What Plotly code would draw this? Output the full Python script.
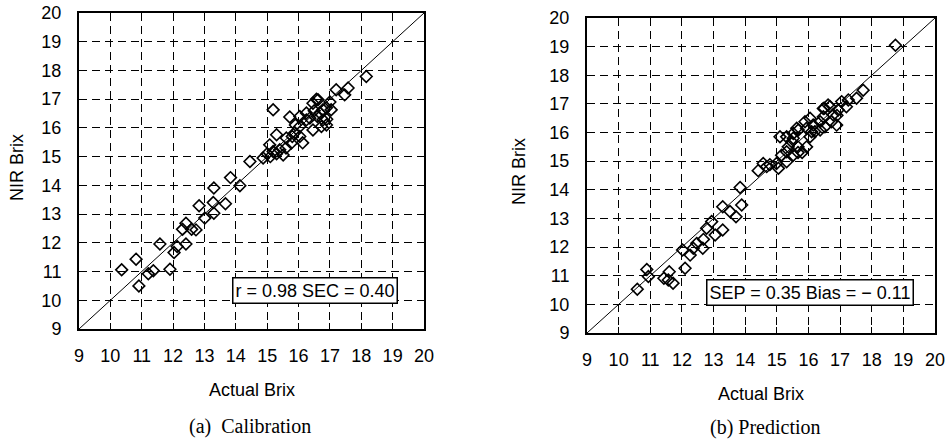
import plotly.graph_objects as go

# ---------------- data ----------------
cal_actual = [10.36, 10.82, 10.91, 11.21, 11.37, 11.58, 11.90, 12.03, 12.13, 12.41,
              12.30, 12.41, 12.59, 12.73, 12.83, 13.01, 13.30, 13.28, 13.67, 13.30,
              13.83, 14.13, 14.45, 14.87, 15.08, 15.19, 15.40, 15.51, 15.30, 15.61,
              15.77, 15.88, 16.04, 16.13, 15.19, 15.72, 16.04, 16.25, 16.46, 16.36,
              16.68, 16.78, 16.89, 16.73, 16.62, 17.04, 17.20, 17.58, 17.47, 18.16,
              16.46, 16.57, 16.25, 16.04, 16.89, 16.78, 15.00, 15.10, 15.90, 16.50,
              16.60, 17.00, 16.90, 15.60, 15.30, 15.80]
cal_nir = [11.06, 11.43, 10.50, 10.92, 11.03, 11.96, 11.08, 11.66, 11.87, 11.96,
           12.47, 12.68, 12.47, 12.45, 13.29, 12.86, 13.03, 13.40, 13.36, 13.91,
           14.27, 13.99, 14.83, 14.95, 15.41, 15.18, 15.24, 15.06, 15.76, 15.65,
           15.47, 15.83, 15.70, 15.48, 16.63, 16.38, 16.05, 16.28, 15.93, 16.34,
           16.52, 16.28, 16.10, 16.05, 16.98, 16.63, 17.33, 17.39, 17.15, 17.79,
           16.86, 17.00, 16.52, 16.40, 16.70, 16.63, 15.10, 15.00, 16.10, 16.60,
           16.40, 16.90, 16.30, 15.30, 15.10, 15.70]

pred_actual = [10.59, 10.89, 10.94, 11.43, 11.60, 11.72, 11.57, 12.10, 12.02, 12.26,
               12.36, 12.47, 12.66, 12.68, 12.78, 12.94, 13.05, 13.29, 13.29, 13.52,
               13.71, 13.89, 13.84, 14.41, 14.68, 14.78, 15.05, 15.15, 15.31, 15.10,
               15.36, 15.52, 15.47, 15.63, 15.67, 15.94, 16.05, 16.05, 16.20, 16.37,
               16.47, 16.52, 16.68, 16.78, 17.05, 17.20, 15.67, 15.80, 17.73, 17.52,
               17.26, 16.94, 16.90, 16.62, 16.50, 16.47, 16.73, 16.89, 15.89, 16.15,
               15.68, 16.10, 16.37, 15.31, 15.52, 15.94, 15.31, 15.52, 14.99, 14.57,
               18.75]
pred_nir = [10.53, 11.22, 10.97, 10.91, 11.14, 10.74, 10.85, 11.26, 11.90, 11.72,
            11.96, 12.13, 11.96, 12.27, 12.66, 12.89, 12.42, 12.60, 13.41, 13.24,
            13.06, 13.47, 14.08, 14.67, 14.81, 14.88, 14.75, 15.21, 14.98, 15.85,
            15.50, 15.97, 15.68, 16.15, 15.50, 16.15, 16.50, 15.85, 16.03, 16.38,
            16.84, 16.20, 16.91, 16.62, 17.08, 16.90, 15.30, 15.30, 17.48, 17.20,
            17.14, 16.79, 16.60, 16.96, 16.85, 16.55, 16.38, 16.26, 16.38, 16.26,
            16.09, 16.03, 16.09, 15.33, 15.80, 15.50, 15.85, 15.21, 14.92, 14.92,
            19.05]

ideal_line = [9, 20]
ticks = list(range(9, 21))
cal_text = "r = 0.98 SEC = 0.40"
pred_text = "SEP = 0.35 Bias = \u2212 0.11"

# ---------------- figure ----------------
fig = go.Figure()

marker = dict(symbol="diamond-open", size=9, color="black", line=dict(width=1.6, color="black"))

fig.add_trace(go.Scatter(x=ideal_line, y=ideal_line, mode="lines",
                         line=dict(color="black", width=1), xaxis="x", yaxis="y",
                         showlegend=False, hoverinfo="skip"))
fig.add_trace(go.Scatter(x=cal_actual, y=cal_nir, mode="markers", marker=marker,
                         xaxis="x", yaxis="y", showlegend=False))
fig.add_trace(go.Scatter(x=ideal_line, y=ideal_line, mode="lines",
                         line=dict(color="black", width=1), xaxis="x2", yaxis="y2",
                         showlegend=False, hoverinfo="skip"))
fig.add_trace(go.Scatter(x=pred_actual, y=pred_nir, mode="markers", marker=marker,
                         xaxis="x2", yaxis="y2", showlegend=False))

tickfont = dict(family="Liberation Sans, Arial, sans-serif", size=18, color="black")

def axis_style(domain, anchor, standoff):
    return dict(domain=domain, anchor=anchor, range=[9, 20], tickvals=ticks,
                ticktext=[str(t) for t in ticks],
                showgrid=True, gridcolor="black", griddash="8px,5px", gridwidth=1.3,
                zeroline=False, showline=True, linecolor="black", linewidth=2,
                mirror=True, ticks="inside", ticklen=6, tickcolor="black", tickwidth=1.3,
                tickfont=tickfont, ticklabelstandoff=standoff, fixedrange=True,
                automargin=False)

W, H = 952, 442
fig.update_layout(
    width=W, height=H,
    margin=dict(l=0, r=0, t=0, b=0, pad=0),
    paper_bgcolor="white", plot_bgcolor="white",
    xaxis=axis_style([79 / W, 424 / W], "y", 9),
    yaxis=axis_style([1 - 329 / H, 1 - 13 / H], "x", 12),
    xaxis2=axis_style([587 / W, 935 / W], "y2", 9),
    yaxis2=axis_style([1 - 333 / H, 1 - 18 / H], "x2", 12),
)

labfont = dict(family="Liberation Sans, Arial, sans-serif", size=18, color="black")
boxfont = dict(family="Liberation Sans, Arial, sans-serif", size=18, color="black")
capfont = dict(family="Liberation Serif, Times New Roman, serif", size=20, color="black")

ann = [
    dict(text="NIR Brix", x=17 / W, y=1 - 168 / H, textangle=-90, font=labfont),
    dict(text="NIR Brix", x=519 / W, y=1 - 172 / H, textangle=-90, font=labfont),
    dict(text="Actual Brix", x=252 / W, y=1 - 390 / H, font=labfont),
    dict(text="Actual Brix", x=761 / W, y=1 - 394 / H, font=labfont),
    dict(text="(a)  Calibration", x=250 / W, y=1 - 426 / H, font=capfont),
    dict(text="(b) Prediction", x=765 / W, y=1 - 427 / H, font=capfont),
]
for a in ann:
    fig.add_annotation(xref="paper", yref="paper", showarrow=False,
                       xanchor="center", yanchor="middle", **a)

fig.add_annotation(xref="x", yref="y", x=13.87, y=10.34, xanchor="left", yanchor="middle",
                   text=cal_text, showarrow=False, font=boxfont,
                   bgcolor="white", bordercolor="black", borderwidth=1.5, borderpad=2)
fig.add_annotation(xref="x2", yref="y2", x=12.76, y=10.4, xanchor="left", yanchor="middle",
                   text=pred_text, showarrow=False, font=boxfont,
                   bgcolor="white", bordercolor="black", borderwidth=1.5, borderpad=2)

fig.write_html("out.html", config={"displayModeBar": False},
               post_script="document.body.style.margin='0';document.body.style.padding='0';")
